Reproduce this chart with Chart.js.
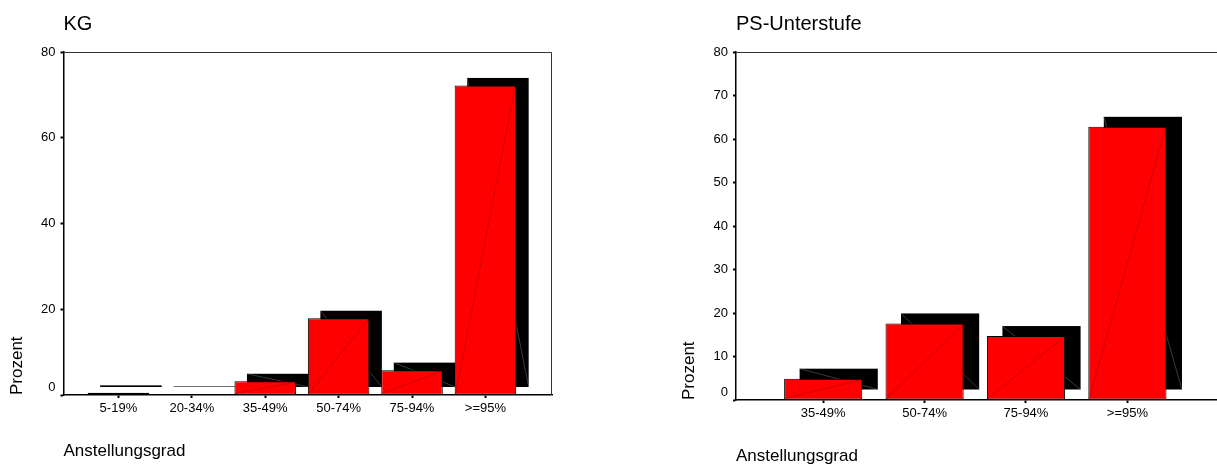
<!DOCTYPE html>
<html>
<head>
<meta charset="utf-8">
<script src="https://cdn.jsdelivr.net/npm/chart.js@4.4.1/dist/chart.umd.min.js"></script>
<style>
  html, body { margin: 0; padding: 0; background: #fff; }
  body { width: 1217px; height: 466px; overflow: hidden; position: relative; }
  .box { position: absolute; top: 0; }
  #kgBox { left: 0; width: 600px; height: 466px; }
  #psBox { left: 640px; width: 600px; height: 480px; }
</style>
</head>
<body>
<div class="box" id="kgBox"><canvas id="kg"></canvas></div>
<div class="box" id="psBox"><canvas id="ps"></canvas></div>
<script>
// Anstellungsgrad distribution, percent of staff
const kgCategories = ['5-19%', '20-34%', '35-49%', '50-74%', '75-94%', '>=95%'];
const kgPercent = [0.5, 0.25, 3.2, 17.9, 5.8, 72.2];
const kgYTicks = [0, 20, 40, 60, 80];

const psCategories = ['35-49%', '50-74%', '75-94%', '>=95%'];
const psPercent = [4.9, 17.6, 14.7, 62.8];
const psYTicks = [0, 10, 20, 30, 40, 50, 60, 70, 80];

Chart.defaults.font.family = "'Liberation Sans', Arial, sans-serif";
Chart.defaults.color = '#000';

// Black extruded back face behind every bar, plus the faint facet seams
const depthPlugin = {
  id: 'depth',
  beforeDatasetsDraw(chart, args, opts) {
    const ctx = chart.ctx;
    const meta = chart.getDatasetMeta(0);
    ctx.save();
    meta.data.forEach(el => {
      const p = el.getProps(['x', 'y', 'base', 'width'], true);
      const left = p.x - p.width / 2;
      const top = Math.min(p.y, p.base);
      const bottom = Math.max(p.y, p.base);
      ctx.fillStyle = '#000';
      ctx.fillRect(left + opts.dx, top - opts.dy, p.width, bottom - top);
      if (bottom - top > 4) {
        ctx.strokeStyle = 'rgba(120,120,120,0.8)';
        ctx.lineWidth = 0.6;
        ctx.beginPath();
        ctx.moveTo(left + opts.dx, top - opts.dy);
        ctx.lineTo(left + opts.dx + p.width, bottom - opts.dy);
        ctx.stroke();
      }
    });
    ctx.restore();
  },
  afterDatasetsDraw(chart) {
    const ctx = chart.ctx;
    const meta = chart.getDatasetMeta(0);
    ctx.save();
    meta.data.forEach(el => {
      const p = el.getProps(['x', 'y', 'base', 'width'], true);
      const left = p.x - p.width / 2;
      const top = Math.min(p.y, p.base);
      const bottom = Math.max(p.y, p.base);
      if (bottom - top > 4) {
        ctx.strokeStyle = 'rgba(150,0,0,0.7)';
        ctx.lineWidth = 0.6;
        ctx.beginPath();
        ctx.moveTo(left + 1, bottom - 1);
        ctx.lineTo(left + p.width - 1, top + 1);
        ctx.stroke();
      }
    });
    ctx.restore();
  }
};

// Top and right edges of the plot frame
const framePlugin = {
  id: 'frame',
  beforeDatasetsDraw(chart) {
    const { ctx, chartArea: a } = chart;
    ctx.save();
    ctx.strokeStyle = '#333';
    ctx.lineWidth = 1;
    ctx.beginPath();
    ctx.moveTo(a.left, a.top + 0.5);
    ctx.lineTo(a.right - 0.5, a.top + 0.5);
    ctx.lineTo(a.right - 0.5, a.bottom);
    ctx.stroke();
    ctx.restore();
  }
};

function makeChart(id, title, cats, vals, yTicks, g) {
  return new Chart(document.getElementById(id), {
    type: 'bar',
    data: {
      datasets: [{
        data: cats.map((c, i) => ({ x: i, y: vals[i] })),
        backgroundColor: '#ff0000',
        borderColor: '#000',
        borderWidth: 1,
        borderSkipped: false,
        barPercentage: 1,
        categoryPercentage: g.barFrac
      }]
    },
    options: {
      responsive: true,
      maintainAspectRatio: false,
      animation: false,
      layout: { padding: { left: 0, top: 0, right: g.padRight, bottom: 0 } },
      plugins: {
        legend: { display: false },
        tooltip: { enabled: false },
        title: {
          display: true, text: title, align: 'start', fullSize: false,
          font: { size: 20, weight: 'normal', lineHeight: 1.2 },
          padding: { top: 12, bottom: 16 }, color: '#000'
        },
        depth: { dx: g.dx, dy: g.dy }
      },
      scales: {
        x: {
          type: 'linear', min: g.xMin, max: g.xMax, offset: false,
          afterFit(s) { s.height = g.xHeight; },
          afterBuildTicks(s) { s.ticks = cats.map((c, i) => ({ value: i })); },
          ticks: {
            callback: v => cats[v] ?? '',
            font: { size: 13 }, padding: 3, maxRotation: 0, autoSkip: false, color: '#000'
          },
          grid: {
            display: true, drawOnChartArea: false, drawTicks: true, offset: false,
            tickLength: 3, tickWidth: 2, tickColor: '#000'
          },
          border: { display: true, color: '#000', width: 1.5 },
          title: {
            display: true, text: 'Anstellungsgrad', align: 'start',
            font: { size: 17, lineHeight: 1.2 },
            padding: { top: 0, bottom: g.xTitlePad }, color: '#000'
          }
        },
        y: {
          min: 0, max: 80,
          afterFit(s) { s.width = g.yWidth; },
          afterBuildTicks(s) { s.ticks = yTicks.map(v => ({ value: v })); },
          ticks: {
            callback: v => (v === 0 ? ['0', ''] : String(v)),
            font: { size: 13 }, padding: 5, color: '#000'
          },
          grid: {
            drawOnChartArea: false, drawTicks: true,
            tickLength: 3, tickWidth: 2, tickColor: '#000'
          },
          border: { display: true, color: '#000', width: 1.5 },
          title: {
            display: true, text: 'Prozent', align: 'start',
            font: { size: 17, lineHeight: 1.2 },
            padding: { top: g.yTitlePad, bottom: 0 }, color: '#000'
          }
        }
      }
    },
    plugins: [depthPlugin, framePlugin]
  });
}

makeChart('kg', 'KG', kgCategories, kgPercent, kgYTicks, {
  yWidth: 63.5, padRight: 48, xHeight: 71, xMin: -0.748, xMax: 5.907,
  barFrac: 0.838, dx: 12.5, dy: 7.5, xTitlePad: 4, yTitlePad: 7.3
});

makeChart('ps', 'PS-Unterstufe', psCategories, psPercent, psYTicks, {
  yWidth: 96, padRight: 18, xHeight: 80, xMin: -0.86, xMax: 3.933,
  barFrac: 0.771, dx: 15.5, dy: 10, xTitlePad: 13, yTitlePad: 38.8
});
</script>
</body>
</html>
